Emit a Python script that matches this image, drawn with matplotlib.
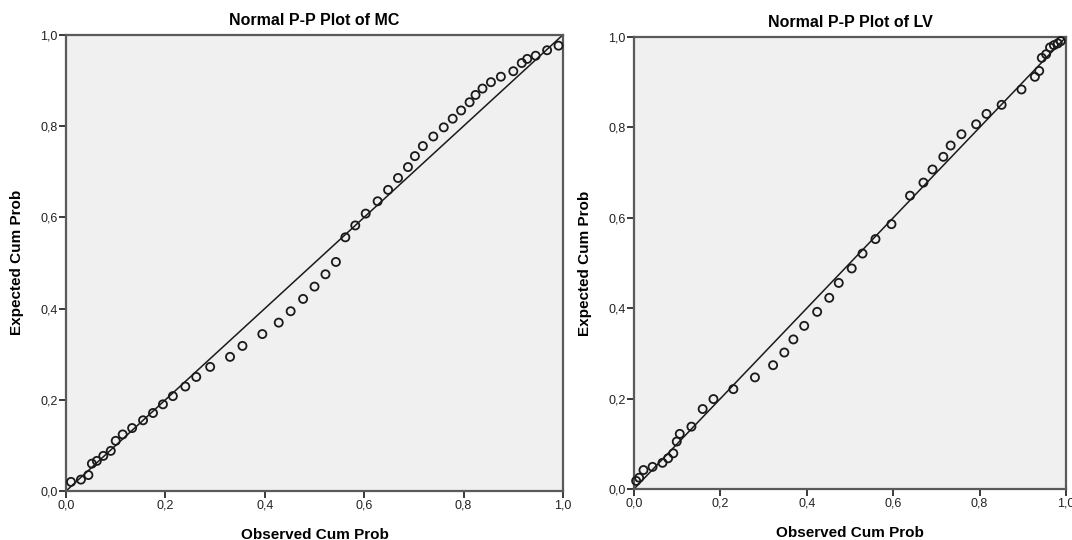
import matplotlib
matplotlib.use("Agg")
import numpy as np
import matplotlib.pyplot as plt
from matplotlib.ticker import FuncFormatter

plt.rcParams['font.family'] = ['Liberation Sans', 'DejaVu Sans']

# MC: observed vs expected cumulative probability
mc_obs = [0.010, 0.030, 0.045, 0.052, 0.062, 0.075, 0.090, 0.100, 0.114, 0.133,
          0.155, 0.175, 0.195, 0.215, 0.240, 0.262, 0.290, 0.330, 0.355, 0.395,
          0.428, 0.452, 0.477, 0.500, 0.522, 0.543, 0.562, 0.582, 0.603, 0.627,
          0.648, 0.668, 0.688, 0.702, 0.718, 0.739, 0.760, 0.778, 0.795, 0.812,
          0.824, 0.838, 0.855, 0.875, 0.900, 0.917, 0.928, 0.945, 0.968, 0.991]
mc_exp = [0.020, 0.025, 0.035, 0.060, 0.066, 0.077, 0.088, 0.110, 0.124, 0.138,
          0.155, 0.171, 0.190, 0.208, 0.229, 0.250, 0.272, 0.294, 0.318, 0.344,
          0.369, 0.394, 0.421, 0.448, 0.475, 0.502, 0.556, 0.582, 0.608, 0.635,
          0.660, 0.686, 0.710, 0.734, 0.756, 0.777, 0.797, 0.816, 0.834, 0.852,
          0.868, 0.882, 0.896, 0.908, 0.920, 0.938, 0.947, 0.954, 0.966, 0.976]

# LV
lv_obs = [0.005, 0.012, 0.022, 0.043, 0.066, 0.079, 0.091, 0.099, 0.106, 0.133,
          0.159, 0.184, 0.230, 0.280, 0.322, 0.348, 0.369, 0.394, 0.424, 0.452,
          0.474, 0.504, 0.529, 0.559, 0.596, 0.639, 0.670, 0.691, 0.716, 0.733,
          0.758, 0.792, 0.816, 0.851, 0.897, 0.928, 0.938, 0.944, 0.954, 0.963,
          0.972, 0.981, 0.988]
lv_exp = [0.018, 0.025, 0.042, 0.049, 0.058, 0.068, 0.079, 0.105, 0.122, 0.138,
          0.177, 0.199, 0.221, 0.247, 0.274, 0.302, 0.331, 0.361, 0.392, 0.423,
          0.456, 0.488, 0.521, 0.553, 0.586, 0.649, 0.678, 0.707, 0.735, 0.760,
          0.785, 0.807, 0.830, 0.850, 0.884, 0.912, 0.925, 0.954, 0.962, 0.977,
          0.982, 0.986, 0.991]

panels = [("Normal P-P Plot of MC", mc_obs, mc_exp, [0.0616, 0.0907, 0.4636, 0.845]),
          ("Normal P-P Plot of LV", lv_obs, lv_exp, [0.5914, 0.0944, 0.403, 0.837])]

fig = plt.figure(figsize=(10.72, 5.4), dpi=100)
comma = FuncFormatter(lambda v, pos: f"{v:.1f}".replace(".", ","))

for title, obs, exp, rect in panels:
    ax = fig.add_axes(rect)
    ax.set_facecolor("#f0f0f0")
    ax.plot([0, 1], [0, 1], color="#1a1a1a", lw=1.1, zorder=2)
    ax.scatter(obs, exp, s=34, facecolors="none", edgecolors="#1a1a1a",
               linewidths=1.3, zorder=3, clip_on=False)
    ax.set_xlim(0, 1)
    ax.set_ylim(0, 1)
    ax.set_xticks(np.arange(0, 1.01, 0.2))
    ax.set_yticks(np.arange(0, 1.01, 0.2))
    ax.xaxis.set_major_formatter(comma)
    ax.yaxis.set_major_formatter(comma)
    for sp in ax.spines.values():
        sp.set_color("#5a5a5a")
        sp.set_linewidth(1.6)
    ax.tick_params(direction="out", length=5, width=1.4, color="#3a3a3a",
                   labelsize=9, labelcolor="#222222", pad=1)
    ax.set_title(title, fontsize=11.5, fontweight="bold", pad=7)
    ax.set_xlabel("Observed Cum Prob", fontsize=11, fontweight="bold", labelpad=12)
    ax.set_ylabel("Expected Cum Prob", fontsize=11, fontweight="bold", labelpad=12)

plt.savefig("out.png", dpi=100)
